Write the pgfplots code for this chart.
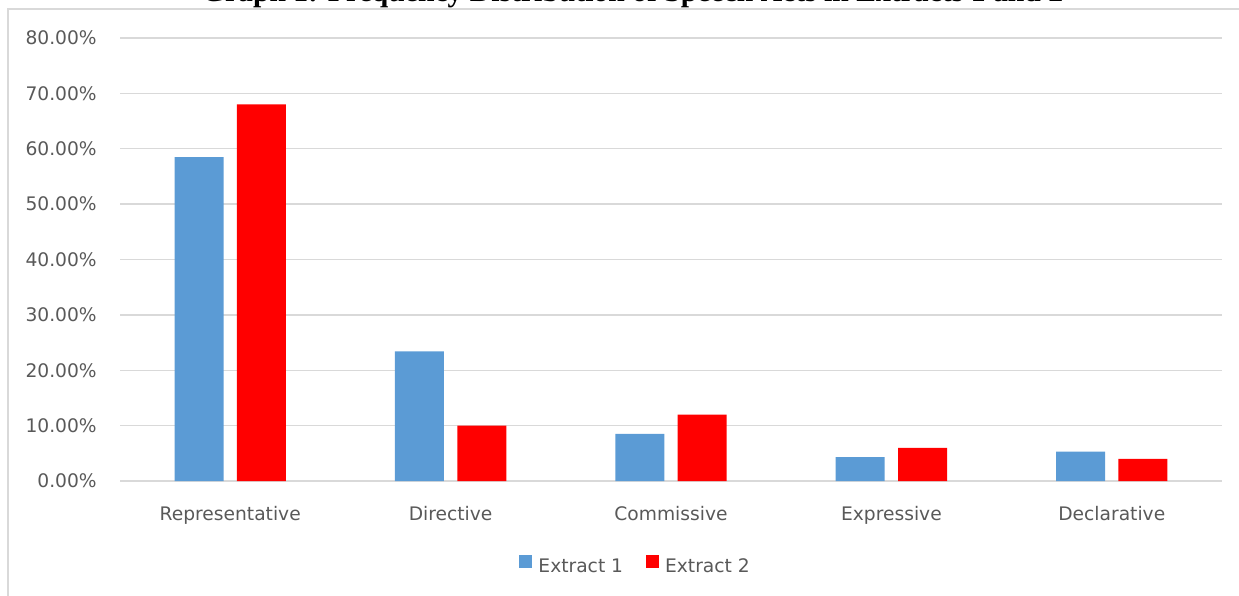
\documentclass[border=0pt]{standalone}
\usepackage{pgfplots}
\pgfplotsset{compat=1.18}
\usepackage{fontspec}
\setmainfont{DejaVu Sans}
\newfontfamily\titlefont{Liberation Serif}
\definecolor{ext1}{HTML}{5B9BD5}
\definecolor{ext2}{HTML}{FF0000}
\definecolor{gridgray}{HTML}{D9D9D9}
\definecolor{labelgray}{HTML}{595959}

\begin{document}
\begin{tikzpicture}
% page = 1239 x 596 px, 1 px = 0.75pt, origin at top left
\useasboundingbox (0,0) rectangle (929.25pt,-447pt);
% outer chart frame (only top and left edges are visible)
\draw[gridgray, line width=0.9pt] (6pt,-450pt) -- (6pt,-6.75pt) -- (935pt,-6.75pt);
% title, mostly cut off by the top edge
\node[anchor=base, inner sep=0pt] at (474.4pt,-1.5pt)
  {\resizebox{645.75pt}{!}{\titlefont\bfseries Graph 1: Frequency Distribution of Speech Acts in Extracts 1 and 2}};

\begin{axis}[
  at={(90pt,-360.75pt)}, anchor=south west,
  scale only axis, width=826.5pt, height=332.25pt,
  ybar=10pt, bar width=36.75pt,
  xmin=-0.5, xmax=4.5, ymin=0, ymax=80,
  xtick={0,1,2,3,4},
  xticklabels={Representative,Directive,Commissive,Expressive,Declarative},
  ytick={0,10,20,30,40,50,60,70,80},
  yticklabel={\pgfmathprintnumber[fixed,fixed zerofill,precision=2]{\tick}\%},
  /pgf/number format/assume math mode=true,
  major tick length=0pt,
  axis line style={draw=none},
  ymajorgrids, grid style={gridgray, line width=1.1pt},
  tick label style={font=\fontsize{14pt}{16pt}\selectfont, text=labelgray},
  yticklabel style={anchor=east, inner sep=0pt, xshift=-17.25pt},
  xticklabel style={anchor=base, inner sep=0pt, yshift=-29.25pt},
  legend columns=2,
  legend style={at={(0.467,-0.1896)}, anchor=center, draw=none, fill=none,
    inner sep=0pt, font=\fontsize{14pt}{16pt}\selectfont, text=labelgray,
    nodes={inner sep=0pt},
    /tikz/every odd column/.append style={column sep=4.5pt},
    /tikz/every even column/.append style={column sep=17.25pt}},
  legend cell align=left,
  legend image code/.code={\fill[#1] (0pt,-0.75pt) rectangle (9.75pt,9pt);},
]
\addplot[fill=ext1, draw=none] coordinates {(0,58.5) (1,23.4) (2,8.5) (3,4.3) (4,5.3)};
\addplot[fill=ext2, draw=none] coordinates {(0,68.0) (1,10.0) (2,12.0) (3,6.0) (4,4.0)};
\legend{Extract 1, Extract 2}
\end{axis}
\end{tikzpicture}
\end{document}
